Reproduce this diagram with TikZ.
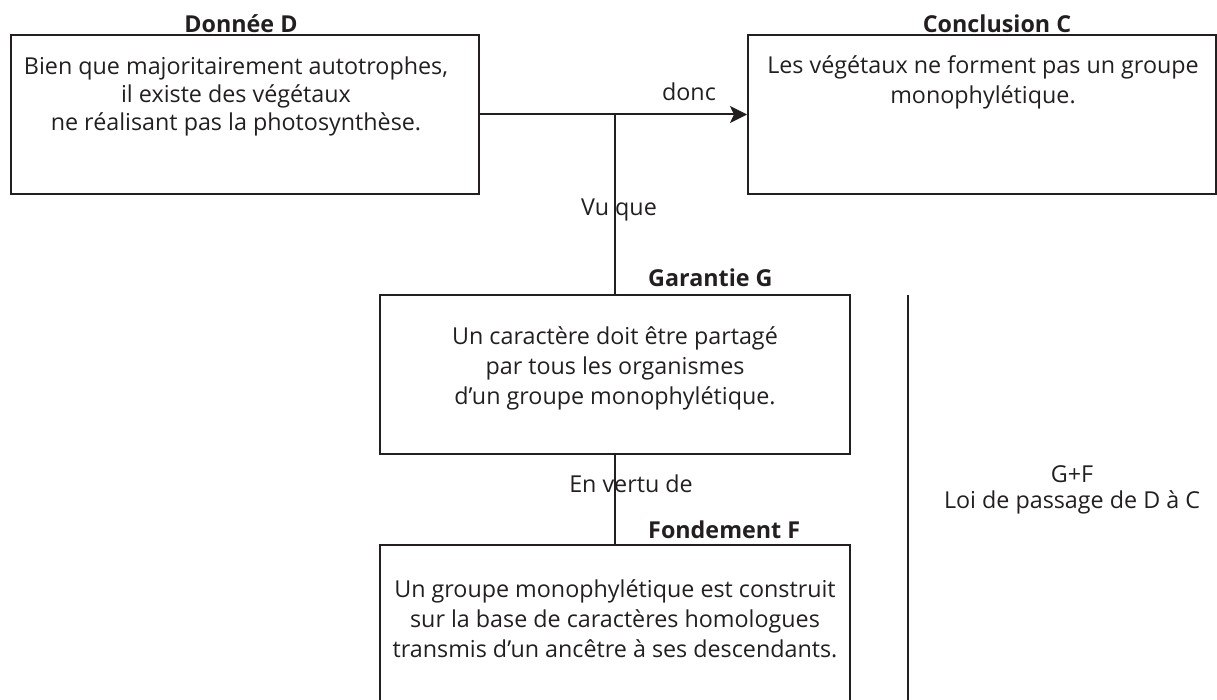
\documentclass[tikz,border=0pt]{standalone}
\usepackage{fontspec}
\setmainfont{Open Sans}
\usetikzlibrary{arrows.meta}
\definecolor{ink}{HTML}{231F20}
\begin{document}
\begin{tikzpicture}[x=1pt,y=-1pt,
  box/.style={draw=ink,line width=2pt,rectangle,inner sep=0pt,fill=none},
  txt/.style={text=ink,align=center,inner sep=0pt,font=\fontsize{23.3}{30}\selectfont},
  ttl/.style={text=ink,inner sep=0pt,font=\fontsize{23.3}{28}\selectfont\bfseries},
  conn/.style={draw=ink,line width=2pt},
  arr/.style={conn,-{Stealth[length=17pt,width=17pt,inset=4pt]}}]
\useasboundingbox (0,0) rectangle (1217,700);
% boxes
\node[box,minimum width=468pt,minimum height=159pt] (D) at (245,114.5) {};
\node[box,minimum width=468pt,minimum height=159pt] (C) at (982,114.5) {};
\node[box,minimum width=470pt,minimum height=159pt] (G) at (615,374.5) {};
\node[box,minimum width=470pt,minimum height=170pt] (F) at (615,630) {};
% titles
\node[ttl] (Dtitle) at (241,24) {Donnée D};
\node[ttl] (Ctitle) at (997,24) {Conclusion C};
\node[ttl,anchor=west] (Gtitle) at (648,278) {Garantie G};
\node[ttl,anchor=west] (Ftitle) at (648,530) {Fondement F};
% texts
\node[txt,font=\fontsize{23.3}{28}\selectfont] (Dtext) at (236,96.5) {Bien que majoritairement autotrophes,\\il existe des végétaux\\ne réalisant pas la photosynthèse.};
\node[txt] (Ctext) at (983,82) {Les végétaux ne forment pas un groupe\\monophylétique.};
\node[txt] (Gtext) at (615,368) {Un caractère doit être partagé\\par tous les organismes\\d’un groupe monophylétique.};
\node[txt] (Ftext) at (615,619) {Un groupe monophylétique est construit\\sur la base de caractères homologues\\transmis d’un ancêtre à ses descendants.};
\node[txt,font=\fontsize{23.3}{26}\selectfont] (GF) at (1072,490) {G+F\\Loi de passage de D à C};
% connector labels
\node[txt] (donc) at (689,92) {donc};
\node[txt] (vuque) at (619,210) {Vu que};
\node[txt] (vertu) at (631,484) {En vertu de};
% connectors
\coordinate (j) at (615,114.5);
\draw[arr] (D.east) -- (C.west);
\draw[conn] (j) -- (G.north);
\draw[conn] (G.south) -- (F.north);
\coordinate (v1) at (908,295);
\coordinate (v2) at (908,705);
\draw[conn] (v1) -- (v2);
\end{tikzpicture}
\end{document}
